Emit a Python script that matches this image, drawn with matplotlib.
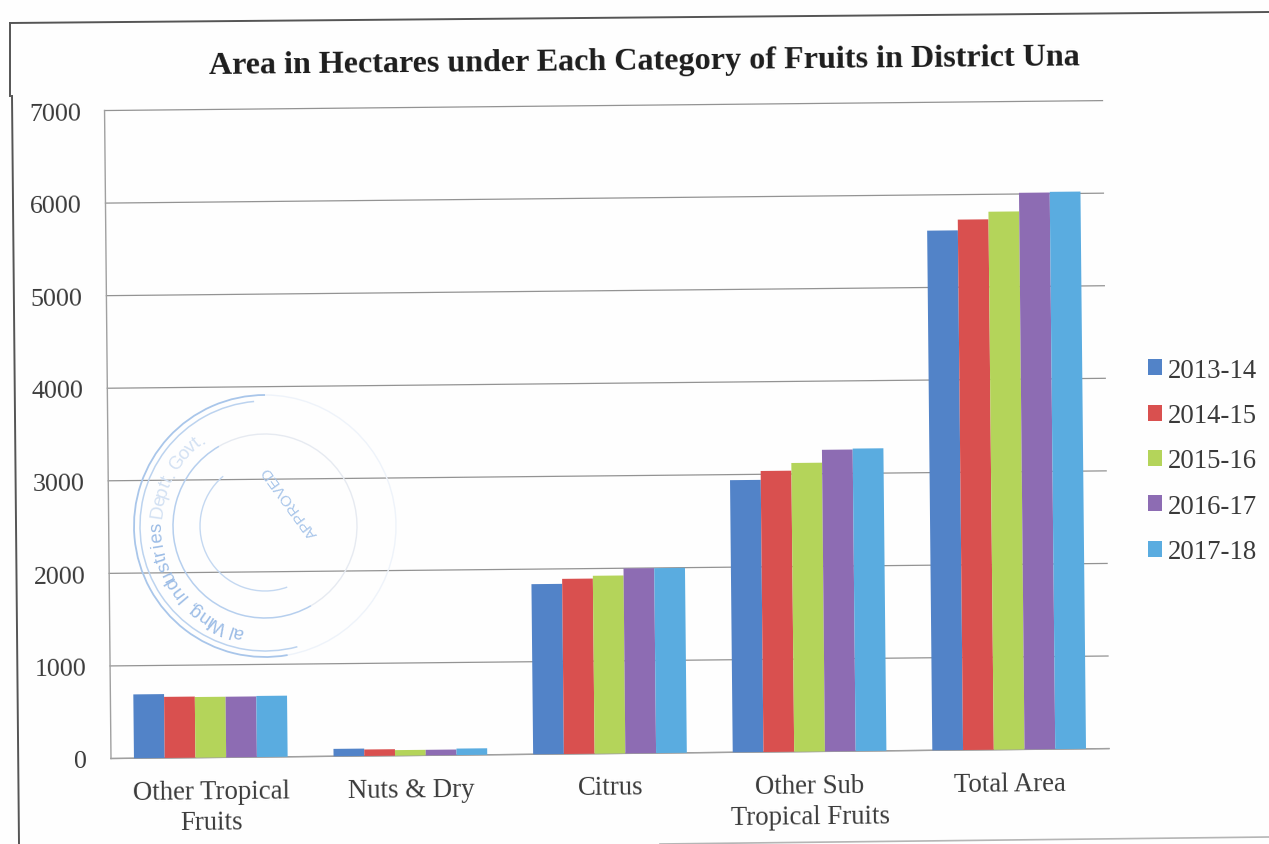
import numpy as np
import matplotlib
matplotlib.use("Agg")
import matplotlib.pyplot as plt
from matplotlib.lines import Line2D
from matplotlib.patches import Arc
from matplotlib.transforms import Affine2D

categories = ["Other Tropical\nFruits", "Nuts & Dry", "Citrus", "Other Sub\nTropical Fruits", "Total Area"]
y2013_14 = [690, 80, 1838, 2940, 5614]
y2014_15 = [660, 70, 1892, 3036, 5730]
y2015_16 = [655, 60, 1922, 3119, 5812]
y2016_17 = [655, 60, 1998, 3258, 6013]
y2017_18 = [660, 70, 1998, 3268, 6020]
seasons = ["2013-14", "2014-15", "2015-16", "2016-17", "2017-18"]
series = [y2013_14, y2014_15, y2015_16, y2016_17, y2017_18]
colors = ["#5283c8", "#d9504f", "#b4d45a", "#8d6cb3", "#5aace0"]
title = "Area in Hectares under Each Category of Fruits in District Una"
yticks = [0, 1000, 2000, 3000, 4000, 5000, 6000, 7000]

W, H = 1269, 845
plt.rcParams["font.family"] = ["Liberation Serif", "DejaVu Serif"]
fig = plt.figure(figsize=(W / 100, H / 100), dpi=100, facecolor="#fefefe")
ax = fig.add_axes([111 / W, 85.5 / H, 998 / W, 648 / H])
ax.set_facecolor("none")

# The page was scanned slightly rotated: everything turns about the axis origin.
ANGLE = 0.57
rot = Affine2D().rotate_deg_around(111, 85.5, ANGLE)
dark = "#3a3a3a"

x = np.arange(len(categories))
bw = 0.154
for i, (vals, lab, c) in enumerate(zip(series, seasons, colors)):
    bars = ax.bar(x + (i - 2) * bw, vals, bw, color=c, label=lab, zorder=3, linewidth=0)
    for p in bars:
        p.set_transform(ax.transData + rot)
        p.set_clip_on(False)

ax.set_xlim(-0.5, 4.5)
ax.set_ylim(0, 7000)
ax.set_yticks(yticks)
ax.set_xticks(x)
ax.set_xticklabels(categories)
ax.yaxis.grid(True, color="#939393", linewidth=0.9, zorder=0)
ax.set_axisbelow(True)
ax.tick_params(axis="y", length=0, pad=17, labelsize=18.7, labelcolor=dark)
ax.tick_params(axis="x", length=0, pad=15.5, labelsize=19.3, labelcolor=dark)
fig.canvas.draw()

for axis in (ax.xaxis, ax.yaxis):
    for t in axis.get_major_ticks():
        for art in (t.label1, t.gridline):
            art.set_transform(art.get_transform() + rot)
            art.set_clip_on(False)
        t.label1.set_rotation(ANGLE)
        t.label1.set_rotation_mode("anchor")
for t in ax.xaxis.get_major_ticks():
    t.gridline.set_visible(False)
    t.label1.set_linespacing(1.3)

for s in ("top", "right"):
    ax.spines[s].set_visible(False)
for s in ("left", "bottom"):
    sp = ax.spines[s]
    sp.set_color("#a0a0a0")
    sp.set_linewidth(1.0)
    sp.set_transform(sp.get_transform() + rot)

ttl = ax.set_title(title, fontsize=23.1, fontweight="bold", color="#1c1c1c",
                   x=0.5415, pad=26.5, rotation=ANGLE, rotation_mode="anchor")
ttl.set_transform(ttl.get_transform() + rot)

leg = ax.legend(loc="center left", bbox_to_anchor=(1148 / W, (H - 462) / H),
                bbox_transform=fig.transFigure, frameon=False, fontsize=19.3,
                handlelength=0.53, handleheight=0.53, handletextpad=0.22,
                labelspacing=0.76, borderpad=0, borderaxespad=0)
for txt in leg.get_texts():
    txt.set_color(dark)


def px(xp, yp):
    return xp / W, 1 - yp / H


def page_line(x0, y0, x1, y1, **kw):
    (a, b), (c, d) = px(x0, y0), px(x1, y1)
    fig.add_artist(Line2D([a, c], [b, d], **kw))


# scanned page frame
page_line(10, 24, 1269, 13, color="#555555", linewidth=1.4)
page_line(10, 24, 10, 97, color="#555555", linewidth=1.4)
page_line(12, 97, 19, 845, color="#555555", linewidth=1.4)
page_line(660, 845, 1269, 838, color="#b5b5b5", linewidth=1.2)

# faded office stamp
sc = (265, 527)
for r, a0, a1, c, lw in [(131, 90, 280, "#a9c6ea", 1.3), (125, 95, 285, "#bcd3ef", 1.1),
                         (131, 280, 450, "#eef3fa", 1.0), (92, 120, 300, "#b6cfee", 1.1),
                         (92, 300, 480, "#e6eaf1", 1.0), (65, 130, 290, "#c4d8f1", 1.0)]:
    fig.add_artist(Arc((sc[0], H - sc[1]), 2 * r, 2 * r, theta1=a0, theta2=a1,
                       color=c, linewidth=lw, transform=None))
stamp_text = "al Wing, Industries Deptt. Govt."
ang = 258.0
for i, ch in enumerate(stamp_text):
    step = 3.0 if ch in "iltI.,' " else (6.2 if ch in "WDG" else 5.0)
    ang -= step / 2
    xp = sc[0] + 108 * np.cos(np.radians(ang))
    yp = sc[1] - 108 * np.sin(np.radians(ang))
    fx, fy = px(xp, yp)
    fig.text(fx, fy, ch, fontsize=13.5, family="Liberation Sans",
             color="#9dbde6" if i < 19 else "#d3e1f3",
             rotation=ang - 90, rotation_mode="anchor", ha="center", va="center")
    ang -= step / 2
fx, fy = px(290, 502)
fig.text(fx, fy, "APPROVED", fontsize=11, family="Liberation Sans", color="#a9c6ea",
         rotation=126, rotation_mode="anchor", ha="center", va="center")

fig.savefig("out.png", dpi=100, facecolor=fig.get_facecolor())
